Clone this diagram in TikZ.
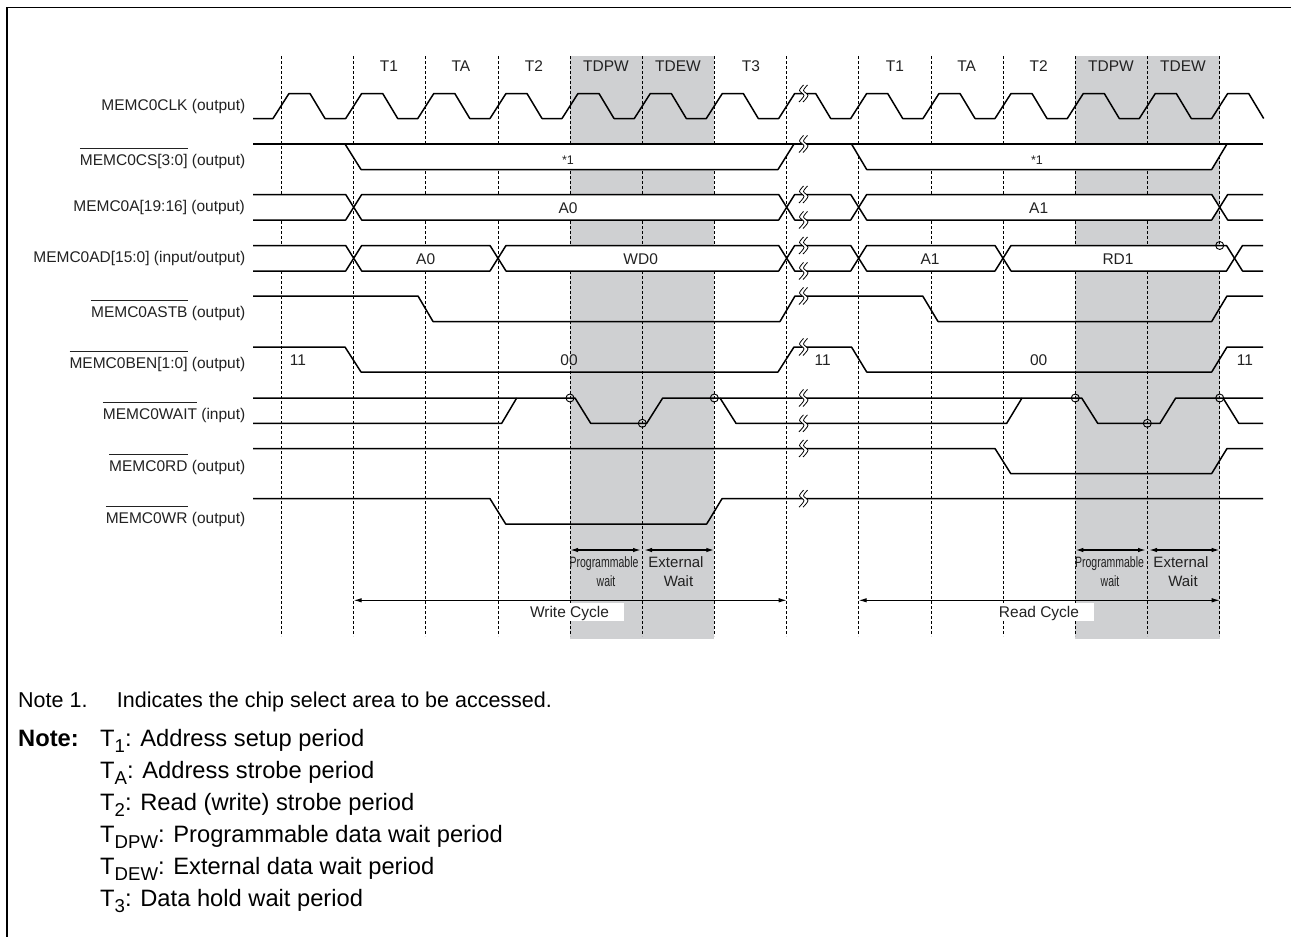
\documentclass[tikz,border=0pt]{standalone}
\usepackage{fontspec}
\setmainfont{Liberation Sans}
\usetikzlibrary{arrows.meta}
\definecolor{waitgray}{HTML}{CFD0D2}
\definecolor{ink}{HTML}{222222}
\newsavebox{\ovbox}
\newlength{\ovw}
\newcommand{\ovl}[1]{\sbox{\ovbox}{#1}\setlength{\ovw}{\wd\ovbox}\rlap{\rule[16.7pt]{\ovw}{0.8pt}}\usebox{\ovbox}}
\newcommand{\sbs}[1]{\raisebox{-5.7pt}{\fontsize{18.6pt}{20pt}\selectfont #1}}
\newcommand{\brk}[1]{\begin{scope}[shift={(801,#1)}]
  \fill[white] (2.5,-8.5) -- (-1.5,-3) -- (3,2) -- (-2,8.5) -- (2,8.5) -- (7,2) -- (2.5,-3) -- (6.5,-8.5) -- cycle;
  \draw[brkline] plot[smooth] coordinates {(2.5,-8.5) (-1.5,-3) (3,2) (-2,8.5)};
  \draw[brkline] plot[smooth] coordinates {(6.5,-8.5) (2.5,-3) (7,2) (2,8.5)};
\end{scope}}
\newcommand{\hex}[4]{\filldraw[sig,fill=white] (#1,{(#3+#4)/2}) -- ({#1+8},#3) -- ({#2-8},#3) -- (#2,{(#3+#4)/2}) -- ({#2-8},#4) -- ({#1+8},#4) -- cycle;}
\newcommand{\busL}[3]{\fill[white] (253,#2) -- ({#1-8},#2) -- (#1,{(#2+#3)/2}) -- ({#1-8},#3) -- (253,#3) -- cycle;
  \draw[sig] (253,#2) -- ({#1-8},#2) -- (#1,{(#2+#3)/2}) -- ({#1-8},#3) -- (253,#3);}
\newcommand{\busR}[3]{\fill[white] (1263,#2) -- ({#1+8},#2) -- (#1,{(#2+#3)/2}) -- ({#1+8},#3) -- (1263,#3) -- cycle;
  \draw[sig] (1263,#2) -- ({#1+8},#2) -- (#1,{(#2+#3)/2}) -- ({#1+8},#3) -- (1263,#3);}
\tikzset{
  x=1pt,y=-1pt,
  sig/.style={line width=1.5pt,draw=black,line join=round},
  brkline/.style={line width=0.8pt,draw=black},
  gridline/.style={line width=1pt,draw=black,dash pattern=on 2.5pt off 2.5pt},
  lab/.style={font=\fontsize{15.5pt}{18pt}\selectfont,text=ink,inner sep=0pt,anchor=base east},
  val/.style={font=\fontsize{15.5pt}{18pt}\selectfont,text=ink,inner sep=0pt,anchor=base},
  small/.style={font=\fontsize{12.5pt}{14pt}\selectfont,text=ink,inner sep=0pt,anchor=base},
  waitlab/.style={font=\fontsize{15pt}{18pt}\selectfont,text=ink,inner sep=0pt,anchor=base},
  note/.style={font=\fontsize{21.5pt}{24pt}\selectfont,text=black,inner sep=0pt,anchor=base west},
  notelist/.style={font=\fontsize{23.7pt}{26pt}\selectfont,text=black,inner sep=0pt,anchor=base west},
  ring/.style={circle,draw=black,line width=0.9pt,minimum size=8pt,inner sep=0pt},
  spanthin/.style={line width=1pt,draw=black,{Latex[length=8pt,width=4.5pt]}-{Latex[length=8pt,width=4.5pt]}},
  spanbold/.style={line width=1.4pt,draw=black,{Latex[length=8pt,width=4.5pt]}-{Latex[length=8pt,width=4.5pt]}},
}
\begin{document}
\begin{tikzpicture}
\useasboundingbox (0,0) rectangle (1291,937);
\fill[white] (0,0) rectangle (1291,937);
% frame
\draw[line width=1.7pt] (7.2,937) -- (7.2,7.5) -- (1291,7.5);
% shaded wait periods
\fill[waitgray] (570,56) rectangle (714.3,639);
\fill[waitgray] (1075.3,56) rectangle (1219.7,639);
% grid
\foreach \g in {281,353.7,425.8,498,570,642.3,714.3,786.7,858.7,931,1003,1075.3,1147.3,1219.7}
  \draw[gridline] (\g,56) -- (\g,636);
% CLK
\draw[sig] (253,118.5) \foreach \g in {281,353.7,425.8,498,570,642.3,714.3,786.7,858.7,931,1003,1075.3,1147.3,1219.7} { -- (\g-8,118.5) -- (\g+8,93.5) -- (\g+29,93.5) -- (\g+44,118.5) };
% CS
\filldraw[sig,fill=white] (345,144) -- (361,169.5) -- (778,169.5) -- (794,144) -- cycle;
\filldraw[sig,fill=white] (851.5,144) -- (866.7,169.5) -- (1211.7,169.5) -- (1227,144) -- cycle;
\draw[sig] (253,144) -- (1263,144);
% A
\busL{353.7}{194.5}{220}
\hex{353.7}{786.7}{194.5}{220}
\hex{786.7}{858.7}{194.5}{220}
\hex{858.7}{1219.7}{194.5}{220}
\busR{1219.7}{194.5}{220}
% AD
\busL{353.7}{245.5}{271}
\hex{353.7}{498}{245.5}{271}
\hex{498}{786.7}{245.5}{271}
\hex{786.7}{858.7}{245.5}{271}
\hex{858.7}{1003}{245.5}{271}
\hex{1003}{1234.5}{245.5}{271}
\busR{1234.5}{245.5}{271}
% ASTB
\draw[sig] (253,296) -- (418,296) -- (433,321.5) -- (780,321.5) -- (795,296) -- (922.7,296) -- (938,321.5) -- (1211.7,321.5) -- (1227,296) -- (1263,296);
% BEN
\draw[sig] (253,347) -- (345,347) -- (361,372) -- (778,372) -- (794,347) -- (851.5,347) -- (866.7,372) -- (1211.7,372) -- (1227,347) -- (1263,347);
% WAIT
\draw[sig] (253,398) -- (575,398) -- (590.7,423.3) -- (646.7,423.3) -- (662.7,398) -- (1081.7,398) -- (1097.7,423.3) -- (1160,423.3) -- (1175.7,398) -- (1263,398);
\draw[sig] (253,423.3) -- (501.7,423.3) -- (516.7,398);
\draw[sig] (720,398) -- (736,423.3) -- (1006.7,423.3) -- (1022,398);
\draw[sig] (1223,398) -- (1238.7,423.3) -- (1263,423.3);
% RD
\draw[sig] (253,448.5) -- (995,448.5) -- (1010.7,473.5) -- (1211.7,473.5) -- (1227,448.5) -- (1263,448.5);
% WR
\draw[sig] (253,498.7) -- (490,498.7) -- (505.7,524) -- (706.7,524) -- (722,498.7) -- (1263,498.7);
% breaks
\foreach \y in {93.5,144,194.5,220,245.5,271,296,347,398,423.3,448.5,498.7} { \brk{\y} }
% rings
\node[ring] (r1) at (570,398) {};
\node[ring] (r2) at (642.3,423.3) {};
\node[ring] (r3) at (714.3,398) {};
\node[ring] (r4) at (1075.3,398) {};
\node[ring] (r5) at (1147.3,423.3) {};
\node[ring] (r6) at (1219.7,398) {};
\node[ring] (r7) at (1219.7,245.5) {};
% cycle spans
\fill[white] (525,602.7) rectangle (624,620.6);
\fill[white] (997,602.7) rectangle (1094,620.6);
\coordinate (w0) at (353.7,600.3);
\coordinate (w1) at (786.7,600.3);
\coordinate (r0) at (858.7,600.3);
\coordinate (r1e) at (1219.7,600.3);
\draw[spanthin] (w0) -- (w1);
\draw[spanthin] (r0) -- (r1e);
\coordinate (pa) at (570,550);
\coordinate (pb) at (641,550);
\coordinate (ea) at (644,550);
\coordinate (eb) at (714.3,550);
\coordinate (qa) at (1075.3,550);
\coordinate (qb) at (1146,550);
\coordinate (fa) at (1149,550);
\coordinate (fb) at (1219.7,550);
\draw[spanbold] (pa) -- (pb);
\draw[spanbold] (ea) -- (eb);
\draw[spanbold] (qa) -- (qb);
\draw[spanbold] (fa) -- (fb);
% period labels
\node[val] (t1) at (389,71.5) {T1};
\node[val] (ta) at (461,71.5) {TA};
\node[val] (t2) at (534,71.5) {T2};
\node[val] (tdpw) at (606,71.5) {TDPW};
\node[val] (tdew) at (678,71.5) {TDEW};
\node[val] (t3) at (751,71.5) {T3};
\node[val] (t1b) at (895,71.5) {T1};
\node[val] (tab) at (966.7,71.5) {TA};
\node[val] (t2b) at (1038.7,71.5) {T2};
\node[val] (tdpwb) at (1111,71.5) {TDPW};
\node[val] (tdewb) at (1183,71.5) {TDEW};
% signal labels
\node[lab] (l1) at (245.5,110.7) {MEMC0CLK (output)};
\node[lab] (l2) at (245.5,165.5) {\ovl{MEMC0CS[3:0]} (output)};
\node[lab] (l3) at (245,211.5) {MEMC0A[19:16] (output)};
\node[lab] (l4) at (245.5,262.3) {MEMC0AD[15:0] (input/output)};
\node[lab] (l5) at (245.5,317.3) {\ovl{MEMC0ASTB} (output)};
\node[lab] (l6) at (245.5,368.5) {\ovl{MEMC0BEN[1:0]} (output)};
\node[lab] (l7) at (245.5,419.3) {\ovl{MEMC0WAIT} (input)};
\node[lab] (l8) at (245.5,471.7) {\ovl{MEMC0RD} (output)};
\node[lab] (l9) at (245.5,523.3) {\ovl{MEMC0WR} (output)};
% values
\node[small] (c1) at (568,164) {*1};
\node[small] (c2) at (1037,164) {*1};
\node[val] (a0) at (568,213) {A0};
\node[val] (a1) at (1038.7,213) {A1};
\node[val] (a0b) at (425.7,264.5) {A0};
\node[val] (wd) at (640.7,264.5) {WD0};
\node[val] (a1b) at (930,264.5) {A1};
\node[val] (rd) at (1118,264.5) {RD1};
\node[val] (v1) at (298,365.5) {11};
\node[val] (v2) at (569,365.5) {00};
\node[val] (v3) at (822.7,365.5) {11};
\node[val] (v4) at (1038.7,365.5) {00};
\node[val] (v5) at (1245,365.5) {11};
% wait labels
\node[waitlab,xscale=0.7] (p1) at (604,567) {Programmable};
\node[waitlab,xscale=0.7] (p2) at (606,586) {wait};
\node[waitlab] (e1) at (676,567) {External};
\node[waitlab] (e2) at (678.5,586) {Wait};
\node[waitlab,xscale=0.7] (p3) at (1109.5,567) {Programmable};
\node[waitlab,xscale=0.7] (p4) at (1110,586) {wait};
\node[waitlab] (e3) at (1181,567) {External};
\node[waitlab] (e4) at (1183,586) {Wait};
\node[val] (wc) at (569.5,617) {Write Cycle};
\node[val] (rc) at (1039,617) {Read Cycle};
% notes
\node[note] (n1) at (18,707.7) {Note 1.};
\node[note] (n2) at (116.7,707.7) {Indicates the chip select area to be accessed.};
\node[notelist] (n3) at (18,746.7) {\textbf{Note:}};
\node[notelist] (n4) at (100,746.7) {T\sbs{1}: Address setup period};
\node[notelist] (n5) at (100,778.7) {T\sbs{A}: Address strobe period};
\node[notelist] (n6) at (100,810.7) {T\sbs{2}: Read (write) strobe period};
\node[notelist] (n7) at (100,842.7) {T\sbs{DPW}: Programmable data wait period};
\node[notelist] (n8) at (100,874.7) {T\sbs{DEW}: External data wait period};
\node[notelist] (n9) at (100,906.7) {T\sbs{3}: Data hold wait period};
\end{tikzpicture}
\end{document}
